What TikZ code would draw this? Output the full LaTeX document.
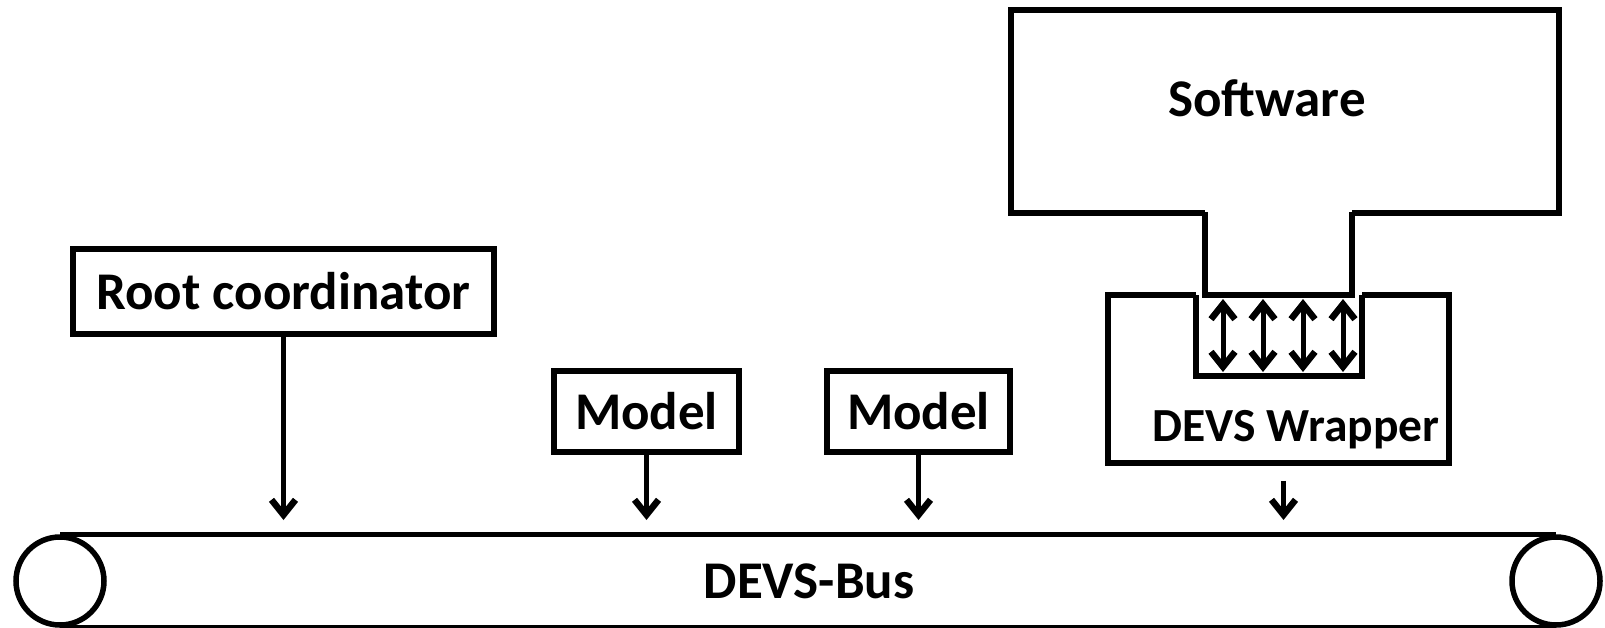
\documentclass[tikz,border=0pt]{standalone}
\usepackage{fontspec}
\setmainfont{Carlito}
\usetikzlibrary{arrows.meta,positioning}

\begin{document}
\begin{tikzpicture}[x=1pt, y=-1pt,
  box/.style={draw, line width=5.5pt, inner sep=0pt,
              font=\bfseries\fontsize{53}{60}\selectfont},
  lbl/.style={inner sep=0pt, font=\bfseries\fontsize{53}{60}\selectfont},
  roll/.style={draw, circle, line width=5.5pt, minimum size=88pt, inner sep=0pt},
  edge/.style={line width=5.5pt},
  tip/.tip={Straight Barb[length=15pt, width=24pt, line width=6.5pt]},
  arrow/.style={-tip, line width=5pt},
  both/.style={tip-tip, line width=5pt}
]
  \useasboundingbox (0,0) rectangle (1605,627);
  % software and its wrapper
  \node[box, minimum width=548pt, minimum height=203pt] (software) at (1285,111.5) {};
  \node[lbl] (softlabel) at (1267,98) {Software};
  \node[box, minimum width=341pt, minimum height=168pt] (wrapper) at (1278.5,379) {};
  \node[lbl, font=\bfseries\fontsize{47.5}{54}\selectfont] (wraplabel) at (1296,430) {DEVS Wrapper};
  \fill[white] (1205,209) rectangle (1352,217);
  \fill[white] (1196,291) rectangle (1362,299);
  \draw[edge] (1205,212) -- (1205,295) -- (1352,295) -- (1352,212);
  \draw[edge] (1196,295) -- (1196,376) -- (1362,376) -- (1362,295);
  \foreach \x [count=\i] in {1223,1263,1303,1343} {
    \coordinate (plug\i) at (\x,299);
    \coordinate (slot\i) at (\x,372);
    \draw[both] (plug\i) -- (slot\i);
  }
  % coordinator and models
  \node[box, minimum width=421pt, minimum height=85pt] (root) at (283.5,291.5) {Root coordinator};
  \node[box, minimum width=185pt, minimum height=81pt] (model1) at (646.5,411.5) {Model};
  \node[box, minimum width=183pt, minimum height=81pt] (model2) at (918.5,411.5) {Model};
  % bus
  \node[roll] (leftroll) at (60,581) {};
  \node[roll] (rightroll) at (1556,581) {};
  \draw[edge] (leftroll.north) -- (rightroll.north);
  \draw[edge] (leftroll.south) -- (rightroll.south);
  \node[lbl] (bus) at (809,581) {DEVS-Bus};
  \coordinate (busin) at (0,520);
  \coordinate (wrapout) at ([xshift=5pt, yshift=-15pt]wrapper.south);
  \draw[arrow] (root.south) -- (root.south |- busin);
  \draw[arrow] (model1.south) -- (model1.south |- busin);
  \draw[arrow] (model2.south) -- (model2.south |- busin);
  \draw[arrow] (wrapout) -- (wrapout |- busin);
\end{tikzpicture}
\end{document}
